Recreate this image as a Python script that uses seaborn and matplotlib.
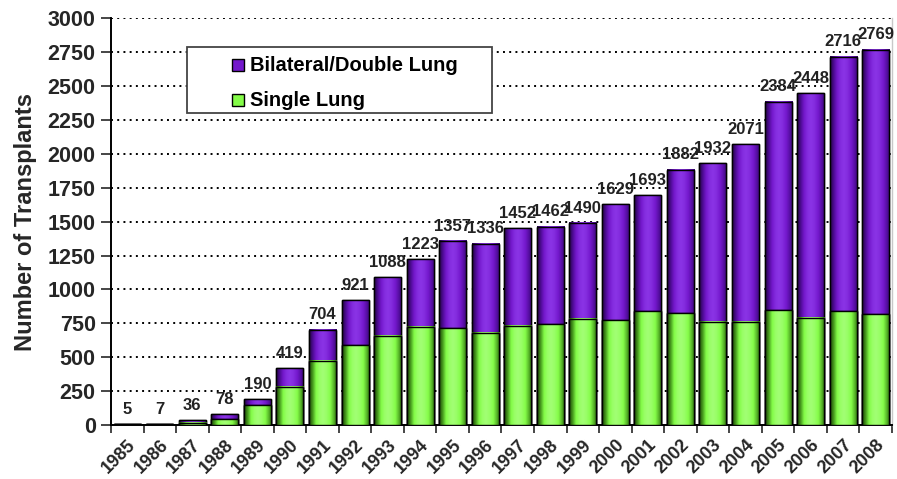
import numpy as np
import pandas as pd
import matplotlib
matplotlib.use("Agg")
import matplotlib.pyplot as plt
from matplotlib.colors import LinearSegmentedColormap
from matplotlib.patches import Rectangle
import seaborn as sns

# datos
anios = [str(a) for a in range(1985, 2009)]
total = [5, 7, 36, 78, 190, 419, 704, 921, 1088, 1223, 1357, 1336,
         1452, 1462, 1490, 1629, 1693, 1882, 1932, 2071, 2384, 2448, 2716, 2769]
single = [4, 6, 17, 42, 147, 282, 472, 587, 658, 724, 715, 680,
          732, 742, 783, 774, 840, 823, 761, 761, 847, 791, 840, 816]
series = ["Bilateral/Double Lung", "Single Lung"]

df = pd.DataFrame({"anio": anios, "total": total, "single": single})

sns.set_style("white")
plt.rcParams["font.family"] = ["Liberation Sans", "DejaVu Sans"]
plt.rcParams["font.weight"] = "bold"

fig = plt.figure(figsize=(8.97, 4.79), dpi=100)
ax = fig.add_axes([0.1237, 0.1127, 0.8707, 0.8493])

purple = "#7418cc"
green = "#84fc48"

sns.barplot(data=df, x="anio", y="total", color=purple, width=0.83,
            edgecolor="black", linewidth=1.0, saturation=1, ax=ax, zorder=3)
sns.barplot(data=df, x="anio", y="single", color=green, width=0.83,
            edgecolor="black", linewidth=1.0, saturation=1, ax=ax, zorder=4)

# sombreado cilindrico: imagen encima de cada barra y contorno negro encima
grad = np.array([0.0, 0.3, 0.65, 0.9, 1.0, 0.9, 0.7, 0.45, 0.15])
gvals = np.interp(np.linspace(0, 8, 90), np.arange(9), grad)[None, :]
cm_p = LinearSegmentedColormap.from_list("p", ["#22043f", "#4e0c96", purple, "#8a34e6"])
cm_g = LinearSegmentedColormap.from_list("g", ["#1c4406", "#4aa020", green, "#a2ff74"])
n = len(anios)
barras = list(ax.patches)
for i, p in enumerate(barras):
    cmap = cm_p if i < n else cm_g
    z = 3 if i < n else 4
    x0, y0 = p.get_x(), p.get_y()
    w, h = p.get_width(), p.get_height()
    if h <= 0:
        continue
    ax.imshow(gvals, extent=[x0, x0 + w, y0, y0 + h], aspect="auto", cmap=cmap,
              vmin=0, vmax=1, zorder=z + 0.3, interpolation="bilinear")
    ax.add_patch(Rectangle((x0, y0), w, h, fill=False, edgecolor="black",
                           linewidth=1.0, zorder=z + 0.5))

# etiquetas de totales
for i, v in enumerate(total):
    ax.text(i, v + 55, str(v), ha="center", va="bottom", fontsize=12,
            color="#222222", fontweight="bold", zorder=6)

ax.set_xlim(-0.5, n - 0.5)
ax.set_ylim(0, 3000)
ax.set_yticks(range(0, 3001, 250))
ax.yaxis.grid(True, color="black", linestyle=(0, (1, 2.2)), linewidth=1.4)
ax.set_axisbelow(True)

ax.set_xticks(np.arange(n))
ax.set_xticklabels(anios, rotation=45, ha="right", rotation_mode="anchor",
                   fontsize=13, fontweight="bold")
ax.set_xticks(np.arange(-0.5, n, 1), minor=True)
ax.tick_params(axis="x", which="major", length=0, pad=8)
ax.tick_params(axis="x", which="minor", length=6, width=1.2, direction="out", bottom=True)
ax.tick_params(axis="y", length=7, width=1.2, direction="out", left=True,
               labelsize=15.5, pad=4)
for lab in ax.get_yticklabels():
    lab.set_fontweight("bold")

ax.set_xlabel("")
ax.set_ylabel("Number of Transplants", fontsize=17, fontweight="bold", labelpad=8)

ax.spines["top"].set_visible(False)
ax.spines["right"].set_color("#c8c8c8")
ax.spines["right"].set_linewidth(1.0)
ax.spines["left"].set_linewidth(1.4)
ax.spines["bottom"].set_linewidth(1.4)
ax.spines["left"].set_color("black")
ax.spines["bottom"].set_color("black")

# leyenda con recuadro propio
caja = Rectangle((0.0973, 0.7666), 0.3905, 0.1624, transform=ax.transAxes,
                 facecolor="white", edgecolor="#444444", linewidth=1.3, zorder=9)
ax.add_patch(caja)
for j, (lab, col) in enumerate(zip(series, [purple, green])):
    yy = 0.884 - j * 0.086
    ax.add_patch(Rectangle((0.1555, yy - 0.015), 0.0145, 0.03, transform=ax.transAxes,
                           facecolor=col, edgecolor="black", linewidth=1.0, zorder=10))
    ax.text(0.178, yy, lab, transform=ax.transAxes, ha="left", va="center",
            fontsize=14.5, fontweight="bold", color="black", zorder=10)

plt.savefig("out.png", dpi=100)
